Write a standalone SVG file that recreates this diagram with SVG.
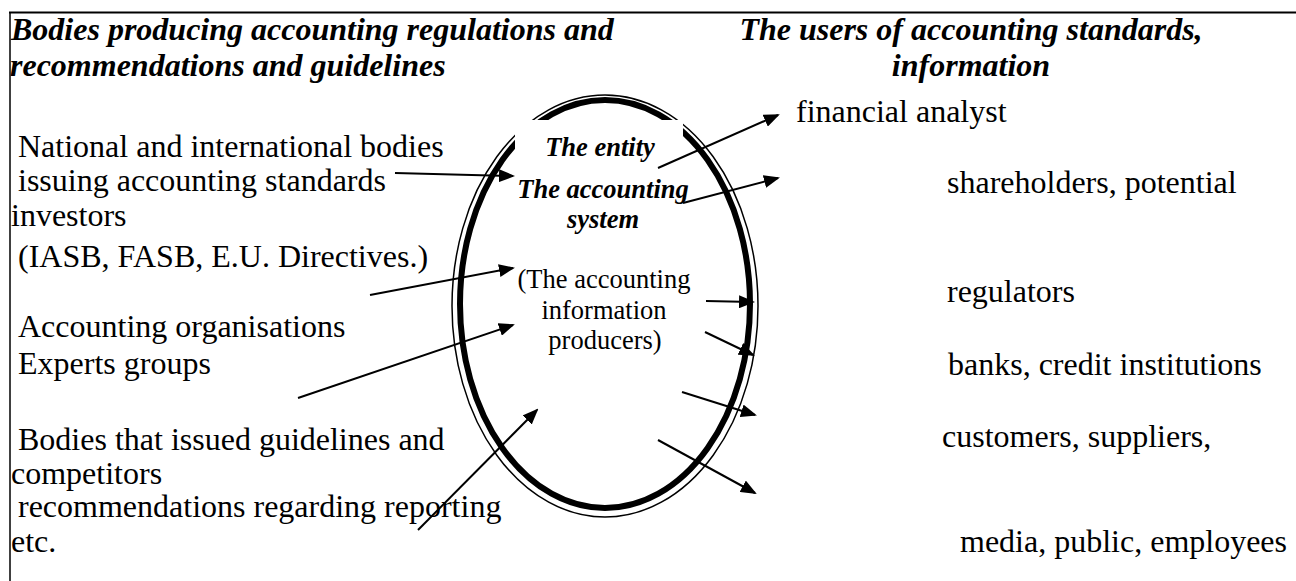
<svg xmlns="http://www.w3.org/2000/svg" width="1296" height="581" viewBox="0 0 1296 581">
<style>
  .t { font-family: "Liberation Serif", "Times New Roman", serif; font-size: 32px; fill: #000; }
  .h { font-family: "Liberation Serif", "Times New Roman", serif; font-size: 32px; font-weight: bold; font-style: italic; fill: #000; }
  .e { font-family: "Liberation Serif", "Times New Roman", serif; font-size: 26.5px; font-weight: bold; font-style: italic; fill: #000; text-anchor: middle; }
  .p { font-family: "Liberation Serif", "Times New Roman", serif; font-size: 26.5px; fill: #000; text-anchor: middle; }
  .c line { stroke: #000; stroke-width: 2; marker-end: url(#ah); }
</style>
<defs>
  <marker id="ah" markerUnits="userSpaceOnUse" markerWidth="16" markerHeight="13" refX="14" refY="6.5" orient="auto">
    <path d="M0,0 L16,6.5 L0,13 z" fill="#000"/>
  </marker>
</defs>
<rect x="0" y="0" width="1296" height="581" fill="#fff"/>
<g id="frame">
  <line x1="9" y1="12.5" x2="1296" y2="12.5" stroke="#000" stroke-width="2"/>
  <line x1="10" y1="12" x2="10" y2="581" stroke="#000" stroke-width="1.5"/>
</g>
<g id="header-left">
  <text class="h" x="11" y="40">Bodies producing accounting regulations and</text>
  <text class="h" x="10" y="76">recommendations and guidelines</text>
</g>
<g id="header-right">
  <text class="h" x="971" y="40" text-anchor="middle">The users of accounting standards,</text>
  <text class="h" x="971" y="76" text-anchor="middle">information</text>
</g>
<g id="entity">
  <ellipse cx="605" cy="306" rx="153" ry="211" fill="none" stroke="#000" stroke-width="1.5"/>
  <ellipse cx="605" cy="304" rx="145" ry="204" fill="none" stroke="#000" stroke-width="6"/>
  <rect x="515" y="120" width="168" height="80" fill="#fff"/>
  <text class="e" x="600" y="156">The entity</text>
  <text class="e" x="603" y="198">The accounting</text>
  <text class="e" x="603" y="228">system</text>
  <text class="p" x="604" y="288">(The accounting</text>
  <text class="p" x="604" y="319">information</text>
  <text class="p" x="605" y="349">producers)</text>
</g>
<g id="producers">
  <text class="t" x="18" y="157">National and international bodies</text>
  <text class="t" x="18" y="191">issuing accounting standards</text>
  <text class="t" x="18" y="267">(IASB, FASB, E.U. Directives.)</text>
  <text class="t" x="18" y="337">Accounting organisations</text>
  <text class="t" x="18" y="374">Experts groups</text>
  <text class="t" x="18" y="450">Bodies that issued guidelines and</text>
  <text class="t" x="18" y="517">recommendations regarding reporting</text>
</g>
<g id="users">
  <text class="t" x="796" y="122">financial analyst</text>
  <text class="t" x="947" y="193">shareholders, potential</text>
  <text class="t" x="11" y="226">investors</text>
  <text class="t" x="947" y="302">regulators</text>
  <text class="t" x="948" y="375">banks, credit institutions</text>
  <text class="t" x="942" y="447">customers, suppliers,</text>
  <text class="t" x="11" y="484">competitors</text>
  <text class="t" x="11" y="552">etc.</text>
  <text class="t" x="960" y="552">media, public, employees</text>
</g>
<g id="connectors" class="c">
  <line x1="395" y1="173" x2="513" y2="176"/>
  <line x1="370" y1="295" x2="513" y2="268"/>
  <line x1="298" y1="398" x2="513" y2="325"/>
  <line x1="418" y1="530" x2="537" y2="410"/>
  <line x1="658" y1="168" x2="778" y2="115"/>
  <line x1="683" y1="203" x2="778" y2="178"/>
  <line x1="706" y1="301" x2="753" y2="302"/>
  <line x1="705" y1="332" x2="753" y2="355"/>
  <line x1="682" y1="392" x2="755" y2="415"/>
  <line x1="658" y1="440" x2="755" y2="493"/>
</g>
</svg>
